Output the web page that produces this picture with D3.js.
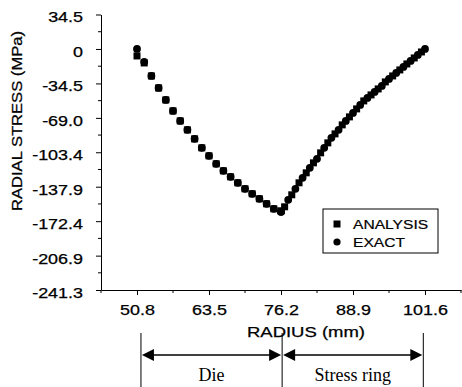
<!DOCTYPE html>
<html>
<head>
<meta charset="utf-8">
<script src="https://cdn.jsdelivr.net/npm/d3@7"></script>
<style>
  body { margin: 0; background: #fff; }
  svg { display: block; }
  text { font-family: "Liberation Sans", Arial, sans-serif; fill: #000; }
  .serif { font-family: "Liberation Serif", "Times New Roman", serif; }
</style>
</head>
<body>
<div id="chart"></div>
<script>
// radius (mm) and radial stress (MPa)
const dieRadius = [50.8, 52.07, 53.34, 54.61, 55.88, 57.15, 58.42, 59.69, 60.96, 62.23, 63.5,
  64.77, 66.04, 67.31, 68.58, 69.85, 71.12, 72.39, 73.66, 74.93, 76.2];
const dieExact = [0, -13, -27, -39, -51, -62, -72, -81, -90, -99, -107,
  -115, -122, -128, -134, -140, -145, -150, -155, -160, -163];
const dieAnalysis = [-7, -14, -27, -39, -51, -62, -72, -81, -90, -99, -107,
  -115, -122, -128, -134, -140, -145, -150, -155, -160, -162];

const ringRadius = [76.2, 77.47, 78.74, 80.01, 81.28, 82.55, 83.82, 85.09, 86.36, 87.63, 88.9,
  90.17, 91.44, 92.71, 93.98, 95.25, 96.52, 97.79, 99.06, 100.33, 101.6];
const ringExact = [-163, -151, -140, -129, -119, -110, -99, -89, -81, -72, -64,
  -56, -49, -43, -37, -30, -24, -18, -12, -6, 0];
const ringAnalysisRadius = [76.84, 78.1, 79.38, 80.65, 81.92, 83.19, 84.46, 85.73, 87.0, 88.27,
  89.54, 90.8, 92.08, 93.34, 94.6, 95.9, 97.16, 98.4, 99.7, 100.97];
const ringAnalysis = [-158, -146, -134, -124, -114, -104, -94, -85, -76, -68,
  -60, -52, -46, -40, -33, -27, -21, -15, -9, -3];

const xTicks = [50.8, 63.5, 76.2, 88.9, 101.6];
const xMinor = [44.45, 57.15, 69.85, 82.55, 95.25, 107.95];
const yTicks = [34.5, 0, -34.5, -69.0, -103.4, -137.9, -172.4, -206.9, -241.3];
const yTickLabels = ["34.5", "0", "-34.5", "-69.0", "-103.4", "-137.9", "-172.4", "-206.9", "-241.3"];
const legendItems = ["ANALYSIS", "EXACT"];

const width = 462, height = 387;
const svg = d3.select('#chart').append('svg')
  .attr('width', width)
  .attr('height', height);

const x = d3.scaleLinear().domain([44.45, 107.95]).range([101, 461]);
const y = d3.scaleLinear().domain([-241.3, 34.5]).range([290, 14.5]);

// text in the scan is wider than normal Arial
function stretch(sel, k) {
  sel.each(function() {
    const w = this.getComputedTextLength();
    d3.select(this).attr('textLength', w * k).attr('lengthAdjust', 'spacingAndGlyphs');
  });
}

// minor ticks
const yMinor = d3.pairs(yTicks).map(p => (p[0] + p[1]) / 2);
svg.append('g')
  .attr('transform', `translate(${x.range()[0]},0)`)
  .selectAll('line').data(yMinor).enter().append('line')
  .attr('x1', -3).attr('x2', 0)
  .attr('y1', d => y(d)).attr('y2', d => y(d))
  .attr('stroke', '#000');
svg.append('g')
  .attr('transform', `translate(0,${y.range()[0]})`)
  .selectAll('line').data(xMinor).enter().append('line')
  .attr('x1', d => x(d)).attr('x2', d => x(d))
  .attr('y1', 0).attr('y2', 3)
  .attr('stroke', '#000');

// y axis
const yAxis = svg.append('g')
  .attr('transform', `translate(${x.range()[0]},0)`)
  .call(d3.axisLeft(y).tickValues(yTicks).tickSize(5).tickSizeOuter(0)
    .tickFormat((d, i) => yTickLabels[i]));
yAxis.selectAll('text')
  .attr('x', -18).attr('dy', '0.32em').attr('y', 3)
  .style('font-size', '14px')
  .attr('stroke', '#000').attr('stroke-width', 0.25);
yAxis.select('.domain').attr('stroke', '#000');
stretch(yAxis.selectAll('text'), 1.28);

// x axis
const xAxis = svg.append('g')
  .attr('transform', `translate(0,${y.range()[0]})`)
  .call(d3.axisBottom(x).tickValues(xTicks).tickSize(5).tickSizeOuter(0)
    .tickFormat(d3.format('.1f')));
xAxis.selectAll('text')
  .attr('y', 15)
  .style('font-size', '14px')
  .attr('stroke', '#000').attr('stroke-width', 0.25);
stretch(xAxis.selectAll('text'), 1.28);

// axis titles
const xTitle = svg.append('text')
  .attr('x', 306).attr('y', 337)
  .attr('text-anchor', 'middle')
  .style('font-size', '14px')
  .attr('stroke', '#000').attr('stroke-width', 0.25)
  .text('RADIUS (mm)');
stretch(xTitle, 1.32);

svg.append('text')
  .attr('transform', 'translate(22,121) rotate(-90)')
  .attr('text-anchor', 'middle')
  .style('font-size', '15px')
  .attr('stroke', '#000').attr('stroke-width', 0.25)
  .attr('textLength', 180)
  .attr('lengthAdjust', 'spacingAndGlyphs')
  .text('RADIAL STRESS (MPa)');

// points
const exact = dieRadius.map((r, i) => [r, dieExact[i]])
  .concat(ringRadius.map((r, i) => [r, ringExact[i]]));
const analysis = dieRadius.map((r, i) => [r, dieAnalysis[i]])
  .concat(ringAnalysisRadius.map((r, i) => [r, ringAnalysis[i]]));

svg.append('g').selectAll('rect').data(analysis).enter().append('rect')
  .attr('x', d => x(d[0]) - 3.5)
  .attr('y', d => y(d[1]) - 3.5)
  .attr('width', 7).attr('height', 7)
  .attr('fill', '#000');

svg.append('g').selectAll('circle').data(exact).enter().append('circle')
  .attr('cx', d => x(d[0]))
  .attr('cy', d => y(d[1]))
  .attr('r', 3.9)
  .attr('fill', '#000');

// legend
const legend = svg.append('g').attr('transform', 'translate(323,209)');
legend.append('rect')
  .attr('width', 115).attr('height', 44)
  .attr('fill', '#fff').attr('stroke', '#000');
const li = legend.selectAll('g').data(legendItems).enter().append('g')
  .attr('transform', (d, i) => `translate(0,${15 + i * 18})`);
li.filter((d, i) => i === 0).append('rect')
  .attr('x', 10.5).attr('y', -3.5).attr('width', 7).attr('height', 7).attr('fill', '#000');
li.filter((d, i) => i === 1).append('circle')
  .attr('cx', 14).attr('cy', 0).attr('r', 3.6).attr('fill', '#000');
const lt = li.append('text')
  .attr('x', 30).attr('y', 5)
  .style('font-size', '13px')
  .attr('stroke', '#000').attr('stroke-width', 0.2)
  .text(d => d);
stretch(lt, 1.2);

// die / stress ring annotation
const ann = svg.append('g');
const bounds = [51.5, 76.4, 101.3];
bounds.forEach(b => {
  ann.append('line')
    .attr('x1', x(b)).attr('x2', x(b))
    .attr('y1', 333).attr('y2', height)
    .attr('stroke', '#000');
});
const spans = [[bounds[0], bounds[1], 'Die'], [bounds[1], bounds[2], 'Stress ring']];
const ay = 355;
spans.forEach(s => {
  const x0 = x(s[0]) + 1, x1 = x(s[1]) - 1;
  ann.append('line')
    .attr('x1', x0 + 10).attr('x2', x1 - 10)
    .attr('y1', ay).attr('y2', ay)
    .attr('stroke', '#000').attr('stroke-width', 1.3);
  ann.append('path')
    .attr('d', `M${x0},${ay}L${x0 + 12},${ay - 6}L${x0 + 12},${ay + 6}Z`)
    .attr('fill', '#000');
  ann.append('path')
    .attr('d', `M${x1},${ay}L${x1 - 12},${ay - 6}L${x1 - 12},${ay + 6}Z`)
    .attr('fill', '#000');
  ann.append('text')
    .attr('class', 'serif')
    .attr('x', (x0 + x1) / 2)
    .attr('y', 381)
    .attr('text-anchor', 'middle')
    .style('font-size', '18px')
    .text(s[2]);
});
</script>
</body>
</html>
